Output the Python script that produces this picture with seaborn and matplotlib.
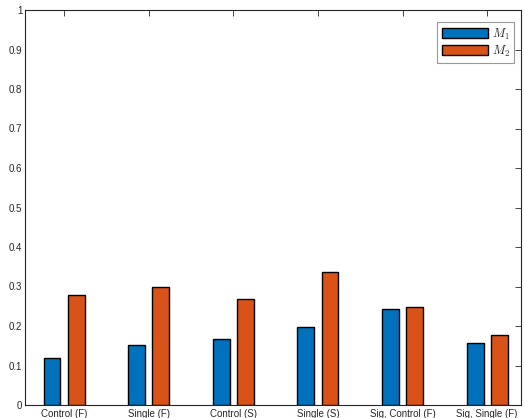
import matplotlib
matplotlib.use("Agg")
import matplotlib.pyplot as plt
import seaborn as sns
import pandas as pd
import numpy as np

categories = ["Control (F)", "Single (F)", "Control (S)", "Single (S)",
              "Sig, Control (F)", "Sig, Single (F)"]
m1_values = [0.118, 0.152, 0.168, 0.197, 0.242, 0.157]
m2_values = [0.278, 0.300, 0.269, 0.337, 0.247, 0.177]
series_labels = ["$M_1$", "$M_2$"]
y_ticks = [0, 0.1, 0.2, 0.3, 0.4, 0.5, 0.6, 0.7, 0.8, 0.9, 1]
y_tick_labels = ["0", "0.1", "0.2", "0.3", "0.4", "0.5", "0.6", "0.7", "0.8", "0.9", "1"]

df = pd.DataFrame({
    "category": categories * 2,
    "value": m1_values + m2_values,
    "series": [series_labels[0]] * len(categories) + [series_labels[1]] * len(categories),
})

sns.set_theme(style="white")
plt.rcParams["font.family"] = ["Liberation Sans", "DejaVu Sans"]
plt.rcParams["mathtext.fontset"] = "cm"

axis_color = "#262626"
fig = plt.figure(figsize=(5.24, 4.18), dpi=100)
ax = fig.add_axes([25 / 524, 13 / 418, 496 / 524, 395 / 418])

sns.barplot(data=df, x="category", y="value", hue="series",
            palette=["#0072BD", "#D95319"], width=0.57, gap=0.3,
            edgecolor="black", linewidth=1.0, saturation=1, ax=ax)

ax.set_xlim(-0.461, 5.40)
ax.set_ylim(0, 1)
ax.set_yticks(y_ticks)
ax.set_yticklabels(y_tick_labels)
ax.set_xlabel("")
ax.set_ylabel("")

for side in ["left", "right", "top", "bottom"]:
    ax.spines[side].set_visible(True)
    ax.spines[side].set_color(axis_color)
    ax.spines[side].set_linewidth(0.8)

ax.tick_params(axis="both", direction="in", length=4, width=0.6,
               colors=axis_color, labelsize=7, top=True, right=True, pad=2)
ax.tick_params(axis="x", labelsize=7, pad=3)

# legend placed inside the top-right corner of the axes
leg = ax.legend(loc="upper right", bbox_to_anchor=(514 / 524, 396 / 418),
                bbox_transform=fig.transFigure, borderaxespad=0,
                fontsize=9, handlelength=3.7, handleheight=0.8,
                fancybox=False, frameon=True, borderpad=0.35,
                labelspacing=0.15, handletextpad=0.3)
leg.get_frame().set_edgecolor("#7f7f7f")
leg.get_frame().set_linewidth(0.8)
leg.set_title(None)

fig.savefig("out.png", dpi=100, facecolor="white")
